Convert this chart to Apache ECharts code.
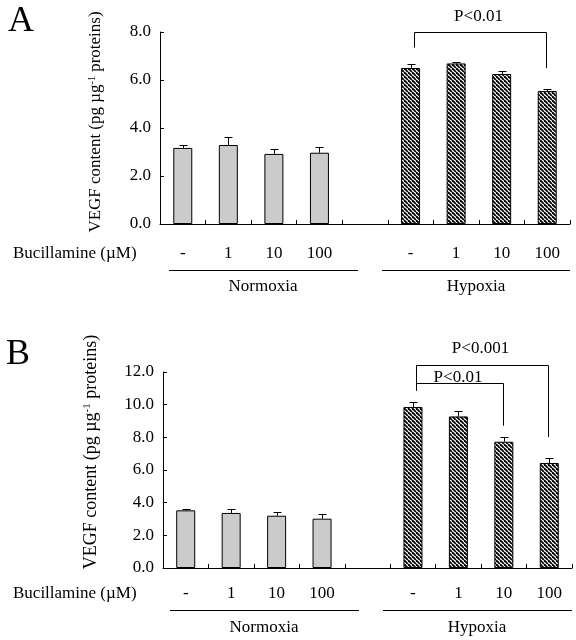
<!DOCTYPE html>
<html>
<head>
<meta charset="utf-8">
<script src="https://cdn.jsdelivr.net/npm/echarts@6/dist/echarts.min.js"></script>
<style>html,body{margin:0;padding:0;background:#fff;}#c{width:576px;height:640px;}</style>
</head>
<body>
<div id="c"></div>
<script>
// ---- data ----
const doses = ['-', '1', '10', '100'];
const groups = ['Normoxia', 'Hypoxia'];
const yTicksA = [0, 2, 4, 6, 8];
const yTicksB = [0, 2, 4, 6, 8, 10, 12];
const normoxiaA = [3.17, 3.29, 2.92, 2.97];
const normoxiaErrA = [0.11, 0.32, 0.19, 0.24];
const hypoxiaA = [6.50, 6.69, 6.25, 5.54];
const hypoxiaErrA = [0.15, 0.07, 0.13, 0.10];
const normoxiaB = [3.53, 3.37, 3.20, 3.02];
const normoxiaErrB = [0.08, 0.22, 0.20, 0.26];
const hypoxiaB = [9.86, 9.28, 7.73, 6.43];
const hypoxiaErrB = [0.28, 0.31, 0.29, 0.28];
// brackets: [fromCategory, toCategory, topValue, leftLegEndValue, rightLegEndValue]
const bracketsA = [[5, 8, 8.0, 7.35, 6.49]];
const bracketLabelsA = ['P<0.01'];
const bracketsB = [[5, 7, 11.33, 10.86, 8.71], [5, 8, 12.41, 10.86, 8.02]];
const bracketLabelsB = ['P<0.01', 'P<0.001'];

// ---- styling ----
const SERIF = '"Liberation Serif", "Times New Roman", serif';
const categories = [...doses, '', ...doses];

function hatch() {
  const n = 4;
  const c = document.createElement('canvas');
  c.width = n; c.height = n;
  const g = c.getContext('2d');
  g.fillStyle = '#fff'; g.fillRect(0, 0, n, n);
  g.strokeStyle = '#000'; g.lineWidth = 1.8;
  for (const o of [-n, 0, n]) { g.beginPath(); g.moveTo(o, 0); g.lineTo(o + n, n); g.stroke(); }
  return c;
}
const hatchPattern = { image: hatch(), repeat: 'repeat' };
const grayStyle = { color: '#cbcbcb', borderColor: '#000', borderWidth: 1 };
const hatchStyle = { color: hatchPattern, borderColor: '#000', borderWidth: 1 };

function barData(norm, hyp) {
  return [...norm.map(v => ({ value: v, itemStyle: grayStyle })), null,
          ...hyp.map(v => ({ value: v, itemStyle: hatchStyle }))];
}
function errData(norm, nErr, hyp, hErr) {
  const out = [];
  norm.forEach((v, i) => out.push([i, v, nErr[i]]));
  hyp.forEach((v, i) => out.push([i + 5, v, hErr[i]]));
  return out;
}
function errRender(params, api) {
  const x = api.value(0), v = api.value(1), e = api.value(2);
  const p0 = api.coord([x, v]), p1 = api.coord([x, v + e]);
  const cx = Math.round(p0[0]) + 0.5, ty = Math.round(p1[1]) + 0.5;
  const st = { stroke: '#000', lineWidth: 1 };
  return { type: 'group', children: [
    { type: 'line', shape: { x1: cx, y1: p0[1], x2: cx, y2: ty }, style: st },
    { type: 'line', shape: { x1: cx - 4, y1: ty, x2: cx + 4, y2: ty }, style: st }
  ]};
}
function bracketRender(brs, labels, offsets) {
  return function (params, api) {
    const b = brs[params.dataIndex];
    const pL = api.coord([b[0], b[2]]), pR = api.coord([b[1], b[2]]);
    const lE = api.coord([b[0], b[3]]), rE = api.coord([b[1], b[4]]);
    const y = Math.round(pL[1]) + 0.5, xl = Math.round(pL[0]) + 3.5, xr = Math.round(pR[0]) - 0.5;
    const st = { stroke: '#000', lineWidth: 1, fill: null };
    return { type: 'group', children: [
      { type: 'polyline', shape: { points: [[xl, lE[1]], [xl, y], [xr, y], [xr, rE[1]]] }, style: st },
      { type: 'text', x: (xl + xr) / 2 - 2, y: y - offsets[params.dataIndex],
        style: { text: labels[params.dataIndex], font: '17px ' + SERIF, fill: '#000', align: 'center', verticalAlign: 'middle' } }
    ]};
  };
}

const axisLineStyle = { lineStyle: { color: '#000', width: 1 } };
function xAx(gi, margin) {
  return { type: 'category', gridIndex: gi, data: categories,
    axisLine: axisLineStyle, axisTick: { show: true, inside: true, length: 4, lineStyle: { color: '#000' } },
    axisLabel: { margin: margin, color: '#000', fontFamily: SERIF, fontSize: 17, interval: 0 } };
}
function yAx(gi, ticks) {
  return { type: 'value', gridIndex: gi, min: ticks[0], max: ticks[ticks.length - 1], interval: ticks[1] - ticks[0],
    axisLine: { show: true, lineStyle: { color: '#000', width: 1 } },
    axisTick: { show: true, inside: true, length: 4, lineStyle: { color: '#000' } },
    splitLine: { show: false },
    axisLabel: { margin: 9, color: '#000', fontFamily: SERIF, fontSize: 17, formatter: v => v.toFixed(1) } };
}
function yLabel(x, y, size) {
  return { type: 'text', x: x, y: y, rotation: Math.PI / 2,
    style: { text: '{a|VEGF content (pg µg}{s|-1}{a| proteins)}', align: 'center', verticalAlign: 'middle', fill: '#000',
      rich: { a: { fontFamily: SERIF, fontSize: size, fill: '#000' }, s: { fontFamily: SERIF, fontSize: Math.round(size * 0.6), verticalAlign: 'top', fill: '#000' } } } };
}
function txt(x, y, s, size, align) {
  return { type: 'text', x: x, y: y, style: { text: s, font: size + 'px ' + SERIF, fill: '#000', align: align || 'center', verticalAlign: 'middle' } };
}
function hline(x1, x2, y) {
  return { type: 'line', shape: { x1: x1, y1: y + 0.5, x2: x2, y2: y + 0.5 }, style: { stroke: '#000', lineWidth: 1 } };
}

const chart = echarts.init(document.getElementById('c'), null, { renderer: 'canvas' });
chart.setOption({
  animation: false,
  backgroundColor: '#fff',
  grid: [
    { left: 160, top: 32, width: 410, height: 192 },
    { left: 163, top: 372, width: 409, height: 196 }
  ],
  xAxis: [xAx(0, 21), xAx(1, 17)],
  yAxis: [yAx(0, yTicksA), yAx(1, yTicksB)],
  series: [
    { type: 'bar', xAxisIndex: 0, yAxisIndex: 0, barWidth: 19, data: barData(normoxiaA, hypoxiaA) },
    { type: 'bar', xAxisIndex: 1, yAxisIndex: 1, barWidth: 19, data: barData(normoxiaB, hypoxiaB) },
    { type: 'custom', xAxisIndex: 0, yAxisIndex: 0, renderItem: errRender, data: errData(normoxiaA, normoxiaErrA, hypoxiaA, hypoxiaErrA), z: 5 },
    { type: 'custom', xAxisIndex: 1, yAxisIndex: 1, renderItem: errRender, data: errData(normoxiaB, normoxiaErrB, hypoxiaB, hypoxiaErrB), z: 5 },
    { type: 'custom', xAxisIndex: 0, yAxisIndex: 0, clip: false, renderItem: bracketRender(bracketsA, bracketLabelsA, [16]), data: bracketsA.map(b => [b[0], b[2]]), z: 6 },
    { type: 'custom', xAxisIndex: 1, yAxisIndex: 1, clip: false, renderItem: bracketRender(bracketsB, bracketLabelsB, [6, 17]), data: bracketsB.map(b => [b[0], b[2]]), z: 6 }
  ],
  graphic: [
    txt(21, 22, 'A', 36), txt(18, 355, 'B', 36),
    yLabel(96, 122, 17), yLabel(91, 452, 18),
    txt(13, 254, 'Bucillamine (µM)', 17, 'left'), txt(13, 594, 'Bucillamine (µM)', 17, 'left'),
    hline(169, 358, 270), hline(382, 570, 270), hline(170, 359, 610), hline(383, 572, 610),
    txt(263, 287, groups[0], 17), txt(476, 287, groups[1], 17),
    txt(264, 628, groups[0], 17), txt(477, 628, groups[1], 17)
  ]
});
</script>
</body>
</html>
